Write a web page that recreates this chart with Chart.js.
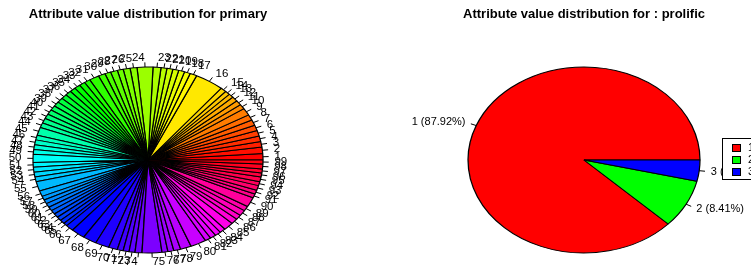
<!DOCTYPE html>
<html>
<head>
<meta charset="utf-8">
<script src="https://cdn.jsdelivr.net/npm/chart.js@4.4.1/dist/chart.umd.min.js"></script>
<style>
    html, body { margin: 0; padding: 0; background: #fff; overflow: hidden; }
    #wrap { position: relative; width: 751px; height: 266px; }
    canvas { position: absolute; left: 0; top: 0; }
</style>
</head>
<body>
<div id="wrap">
    <canvas id="primaryChart" width="751" height="266"></canvas>
    <canvas id="prolificChart" width="751" height="266"></canvas>
</div>
<script>
// primary: 99 attribute values, counts
const primaryLabels = Array.from({ length: 99 }, (_, i) => String(i + 1));
const primaryCounts = [
    8, 8, 7, 7, 7, 7, 7, 7, 9, 6,
    6, 6, 5, 5, 6, 29, 7, 6, 6, 6,
    6, 6, 8, 16, 7, 7, 6, 7, 6, 7,
    10, 6, 6, 6, 6, 6, 6, 6, 6, 6,
    6, 6, 6, 6, 10, 6, 6, 6, 6, 10,
    6, 6, 6, 6, 12, 7, 5, 5, 5, 5,
    5, 5, 5, 5, 4, 8, 14, 14, 14, 9,
    6, 6, 6, 7, 20, 6, 6, 7, 11, 16,
    6, 6, 6, 6, 10, 7, 6, 7, 6, 12,
    5, 5, 6, 5, 6, 5, 5, 6, 5
];

// prolific: 3 values, percentages
const prolificLabels = ['1', '2', '3'];
const prolificPercent = [87.92, 8.41, 3.67];
const prolificColors = ['#ff0000', '#00ff00', '#0000ff'];

const titlePrimary = 'Attribute value distribution for primary';
const titleProlific = 'Attribute value distribution for : prolific';

// R's rainbow(n)
function rainbow(n) {
    const out = [];
    for (let i = 0; i < n; i++) out.push(`hsl(${(i / n) * 360}, 100%, 50%)`);
    return out;
}

// squash the circular pie into an ellipse and flip it so slices run counter-clockwise
function ellipsePlugin(rx, ry) {
    return {
        id: 'ellipse',
        beforeDatasetsDraw(chart) {
            const arc = chart.getDatasetMeta(0).data[0];
            const R = arc.outerRadius;
            const ctx = chart.ctx;
            ctx.save();
            ctx.translate(arc.x, arc.y);
            ctx.scale(rx / R, -ry / R);
            ctx.translate(-arc.x, -arc.y);
        },
        afterDatasetsDraw(chart) {
            chart.ctx.restore();
        }
    };
}

// R-style pie labels: short tick from 1.0 to 1.05, text at 1.1
function labelPlugin(rx, ry, texts, font, title) {
    return {
        id: 'pieLabels',
        afterDraw(chart) {
            const ctx = chart.ctx;
            const arcs = chart.getDatasetMeta(0).data;
            const cx = arcs[0].x, cy = arcs[0].y;
            ctx.save();
            ctx.strokeStyle = '#000';
            ctx.lineWidth = 1;
            ctx.fillStyle = '#000';
            ctx.font = font;
            ctx.textBaseline = 'middle';
            arcs.forEach((arc, i) => {
                const mid = (arc.startAngle + arc.endAngle) / 2;
                const ux = Math.cos(mid), uy = -Math.sin(mid);
                ctx.beginPath();
                ctx.moveTo(cx + rx * ux, cy + ry * uy);
                ctx.lineTo(cx + rx * ux * 1.05, cy + ry * uy * 1.05);
                ctx.stroke();
                ctx.textAlign = ux < 0 ? 'right' : 'left';
                ctx.fillText(texts[i], cx + rx * ux * 1.1, cy + ry * uy * 1.1);
            });
            ctx.font = 'bold 13px "Liberation Sans", Arial, sans-serif';
            ctx.textAlign = 'center';
            ctx.fillText(title, cx, 14);
            ctx.restore();
        }
    };
}

const legendPlugin = {
    id: 'boxLegend',
    afterDraw(chart) {
        const ctx = chart.ctx;
        ctx.save();
        ctx.fillStyle = '#fff';
        ctx.strokeStyle = '#000';
        ctx.lineWidth = 1;
        ctx.fillRect(722.5, 138.5, 40, 41);
        ctx.strokeRect(722.5, 138.5, 40, 41);
        ctx.font = '11px "Liberation Sans", Arial, sans-serif';
        ctx.textBaseline = 'middle';
        ctx.textAlign = 'left';
        prolificLabels.forEach((lab, i) => {
            const y = 148 + i * 12;
            ctx.fillStyle = prolificColors[i];
            ctx.fillRect(732.5, y - 3.5, 8, 7);
            ctx.strokeRect(732.5, y - 3.5, 8, 7);
            ctx.fillStyle = '#000';
            ctx.fillText(lab, 748, y);
        });
        ctx.restore();
    }
};

const baseOptions = (padding) => ({
    responsive: false,
    animation: false,
    events: [],
    rotation: 90,
    layout: { padding },
    plugins: {
        legend: { display: false },
        tooltip: { enabled: false }
    }
});

// left pie: centre (148,160), radii 115 x 93
new Chart(document.getElementById('primaryChart'), {
    type: 'pie',
    data: {
        labels: primaryLabels,
        datasets: [{
            data: primaryCounts,
            backgroundColor: rainbow(primaryCounts.length),
            borderColor: '#000',
            borderWidth: 1
        }]
    },
    options: baseOptions({ left: 55, right: 510, top: 67, bottom: 13 }),
    plugins: [
        ellipsePlugin(115, 93),
        labelPlugin(115, 93, primaryLabels, '11.5px "Liberation Sans", Arial, sans-serif', titlePrimary)
    ]
});

// right pie: centre (584,160), radii 116 x 93
const prolificTexts = prolificLabels.map((l, i) => `${l} (${prolificPercent[i].toFixed(2)}%)`);
new Chart(document.getElementById('prolificChart'), {
    type: 'pie',
    data: {
        labels: prolificLabels,
        datasets: [{
            data: prolificPercent,
            backgroundColor: prolificColors,
            borderColor: '#000',
            borderWidth: 1
        }]
    },
    options: baseOptions({ left: 491, right: 74, top: 67, bottom: 13 }),
    plugins: [
        ellipsePlugin(116, 93),
        labelPlugin(116, 93, prolificTexts, '11px "Liberation Sans", Arial, sans-serif', titleProlific),
        legendPlugin
    ]
});
</script>
</body>
</html>
